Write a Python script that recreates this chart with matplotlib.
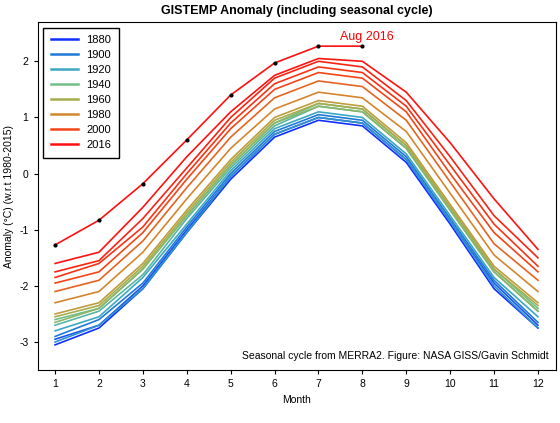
import numpy as np
import matplotlib
matplotlib.use("Agg")
import matplotlib.pyplot as plt
from matplotlib.colors import LinearSegmentedColormap
from matplotlib.lines import Line2D

plt.rcParams['font.family'] = ['Liberation Sans', 'DejaVu Sans']
plt.rcParams['axes.unicode_minus'] = False

months = list(range(1, 13))

# representative years, monthly anomaly (deg C, w.r.t. 1980-2015)
years = [1880, 1890, 1900, 1910, 1920, 1930, 1940, 1950, 1960, 1970, 1980, 1990, 2000, 2005, 2010, 2015]
anom = [
    [-3.05, -2.75, -2.05, -1.05, -0.10, 0.65, 0.95, 0.85, 0.20, -0.90, -2.05, -2.75],
    [-2.95, -2.70, -2.00, -1.00, -0.05, 0.70, 1.00, 0.90, 0.25, -0.85, -1.95, -2.70],
    [-2.90, -2.60, -1.95, -0.95, 0.00, 0.75, 1.05, 0.95, 0.30, -0.80, -1.90, -2.65],
    [-3.00, -2.70, -2.05, -1.05, -0.05, 0.70, 1.00, 0.90, 0.25, -0.85, -2.00, -2.75],
    [-2.80, -2.55, -1.85, -0.90, 0.05, 0.80, 1.10, 1.00, 0.35, -0.75, -1.85, -2.55],
    [-2.70, -2.45, -1.80, -0.80, 0.10, 0.85, 1.20, 1.10, 0.45, -0.65, -1.75, -2.45],
    [-2.60, -2.40, -1.70, -0.75, 0.15, 0.90, 1.25, 1.15, 0.50, -0.60, -1.70, -2.40],
    [-2.65, -2.40, -1.70, -0.75, 0.15, 0.90, 1.20, 1.10, 0.45, -0.65, -1.75, -2.45],
    [-2.55, -2.35, -1.65, -0.70, 0.20, 0.95, 1.25, 1.15, 0.50, -0.60, -1.70, -2.35],
    [-2.50, -2.30, -1.60, -0.65, 0.25, 1.00, 1.30, 1.20, 0.55, -0.55, -1.65, -2.30],
    [-2.30, -2.10, -1.40, -0.45, 0.45, 1.15, 1.45, 1.35, 0.75, -0.35, -1.45, -2.10],
    [-2.10, -1.90, -1.20, -0.25, 0.65, 1.35, 1.65, 1.55, 0.95, -0.15, -1.25, -1.90],
    [-1.95, -1.75, -1.05, -0.10, 0.80, 1.50, 1.80, 1.70, 1.10, 0.00, -1.05, -1.75],
    [-1.85, -1.60, -0.95, 0.00, 0.90, 1.60, 1.90, 1.80, 1.20, 0.15, -0.90, -1.65],
    [-1.75, -1.55, -0.80, 0.10, 1.00, 1.70, 2.00, 1.90, 1.30, 0.30, -0.75, -1.50],
    [-1.60, -1.40, -0.60, 0.30, 1.10, 1.75, 2.05, 2.00, 1.45, 0.55, -0.45, -1.35],
]
months_2016 = [1, 2, 3, 4, 5, 6, 7, 8]
anom_2016 = [-1.27, -0.83, -0.18, 0.60, 1.40, 1.97, 2.27, 2.27]

legend_years = [1880, 1900, 1920, 1940, 1960, 1980, 2000, 2016]
cmap = LinearSegmentedColormap.from_list(
    "gis", ["#1030ff", "#1f78d8", "#3aa6c4", "#6cc08c", "#a0b050", "#d09030", "#f05018", "#ff1010"])

def col(y):
    return cmap((y - 1880) / (2016 - 1880))

fig = plt.figure(figsize=(5.6, 4.23), dpi=100)
ax = fig.add_axes([0.067, 0.125, 0.925, 0.823])

for y, a in zip(years, anom):
    ax.plot(months, a, color=col(y), lw=1.2)
ax.plot(months_2016, anom_2016, color=col(2016), lw=1.2)
ax.plot(months_2016, anom_2016, 'k.', ms=4)
ax.text(7.5, 2.33, "Aug 2016", color="red", fontsize=9, va="bottom")

ax.set_xlim(0.6, 12.4)
ax.set_ylim(-3.5, 2.7)
ax.set_xticks(months)
ax.set_yticks([-3, -2, -1, 0, 1, 2])
ax.tick_params(labelsize=7.5, length=3)
ax.set_xlabel("Month", fontsize=7.5)
ax.set_ylabel("Anomaly (\u00b0C) (w.r.t 1980-2015)", fontsize=7.5)
ax.set_title("GISTEMP Anomaly (including seasonal cycle)", fontsize=9, fontweight="bold", pad=6)
ax.text(12.25, -3.3, "Seasonal cycle from MERRA2. Figure: NASA GISS/Gavin Schmidt",
        fontsize=7.5, ha="right")

handles = [Line2D([], [], color=col(y), lw=1.8) for y in legend_years]
ax.legend(handles, [str(y) for y in legend_years], loc="upper left", fontsize=8,
          frameon=True, fancybox=False, edgecolor="black", handlelength=2.4,
          labelspacing=0.45, borderpad=0.7, framealpha=1)

fig.savefig("out.png", dpi=100)
